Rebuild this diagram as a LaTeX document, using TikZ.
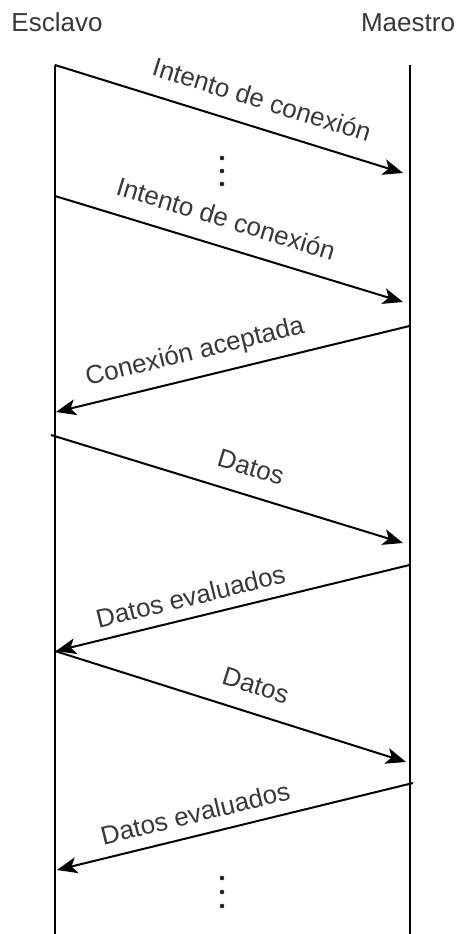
\documentclass[tikz,border=0pt]{standalone}
\usepackage{fontspec}
\setmainfont{Liberation Sans}
\usetikzlibrary{arrows.meta}
\definecolor{txt}{HTML}{383838}
\begin{document}
\begin{tikzpicture}[x=1pt,y=-1pt,
  lifeline/.style={line width=2pt},
  msg/.style={line width=2pt,-{Stealth[length=20pt,width=16pt,inset=5pt]}},
  lbl/.style={font=\fontsize{26}{31}\selectfont, text=txt, inner sep=0pt, text depth=0pt, sloped},
  head/.style={font=\fontsize{26}{31}\selectfont, text=txt, inner sep=0pt, anchor=base},
  dot/.style={fill=black!85},
  ]
\useasboundingbox (0,0) rectangle (456,934);

% participants
\node[head] (esclavo) at (57,32) {Esclavo};
\node[head] (maestro) at (408,32) {Maestro};

% lifelines
\coordinate (eTop) at (55,65);
\coordinate (eBot) at (55,934);
\coordinate (mTop) at (409.5,65);
\coordinate (mBot) at (409.5,934);
\draw[lifeline] (eTop) -- (eBot);
\draw[lifeline] (mTop) -- (mBot);

% message end points
\coordinate (s1) at (55,65);    \coordinate (t1) at (403,173);
\coordinate (s2) at (55,196);   \coordinate (t2) at (403,302);
\coordinate (s3) at (409.5,326);\coordinate (t3) at (56,412);
\coordinate (s4) at (51,435);   \coordinate (t4) at (403,543);
\coordinate (s5) at (409.5,565);\coordinate (t5) at (56,651);
\coordinate (s6) at (55,651);   \coordinate (t6) at (406,762);
\coordinate (s7) at (413,783);  \coordinate (t7) at (57,870);

% messages
\draw[msg] (s1) -- node[lbl, pos=0.571, above=18pt] {Intento de conexión} (t1);
\draw[msg] (s2) -- node[lbl, pos=0.468, above=18pt] {Intento de conexión} (t2);
\draw[msg] (s3) -- node[lbl, pos=0.59, above=17pt] {Conexión aceptada} (t3);
\draw[msg] (s4) -- node[lbl, pos=0.545, above=18pt] {Datos} (t4);
\draw[msg] (s5) -- node[lbl, pos=0.605, above=11pt] {Datos evaluados} (t5);
\draw[msg] (s6) -- node[lbl, pos=0.548, above=18pt] {Datos} (t6);
\draw[msg] (s7) -- node[lbl, pos=0.597, above=12pt] {Datos evaluados} (t7);

% vertical ellipses
\foreach \y in {158,171,184} \fill[dot] (222,\y) circle (2.3pt);
\foreach \y in {878,892,906} \fill[dot] (222,\y) circle (2.3pt);
\end{tikzpicture}
\end{document}
